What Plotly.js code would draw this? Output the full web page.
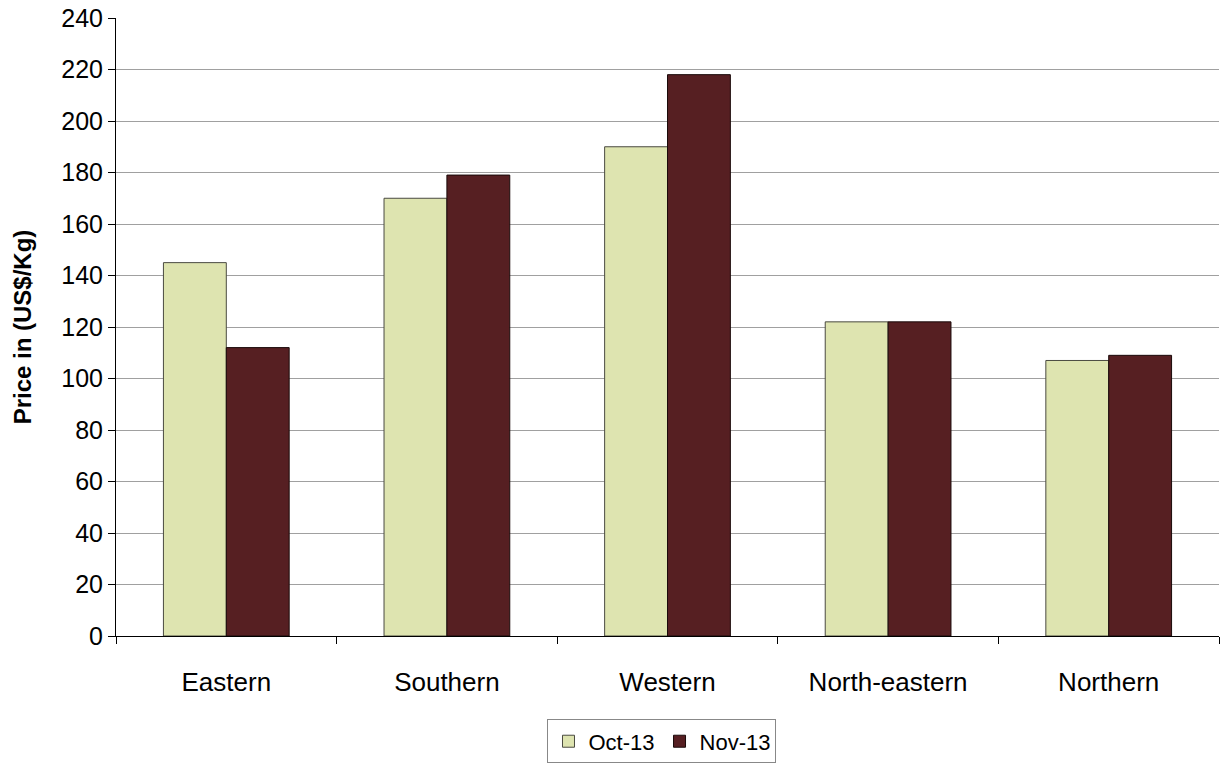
<!DOCTYPE html>
<html>
<head>
<meta charset="utf-8">
<script src="https://cdn.plot.ly/plotly-3.0.1.min.js"></script>
<style>html,body{margin:0;padding:0;background:#fff;}#chart{width:1221px;height:765px;}</style>
</head>
<body>
<div id="chart"></div>
<script>
const regions = ["Eastern", "Southern", "Western", "North-eastern", "Northern"];
const oct13 = [145, 170, 190, 122, 107];
const nov13 = [112, 179, 218, 122, 109];
const yTicks = [0, 20, 40, 60, 80, 100, 120, 140, 160, 180, 200, 220, 240];
const gridTicks = [20, 40, 60, 80, 100, 120, 140, 160, 180, 200, 220];

const traces = [
  {type: 'bar', name: 'Oct-13', x: regions, y: oct13,
   marker: {color: '#DEE4B0', line: {color: '#4a4a40', width: 1}}},
  {type: 'bar', name: 'Nov-13', x: regions, y: nov13,
   marker: {color: '#561F22', line: {color: '#1a0a0a', width: 1}}},
  {type: 'scatter', x: regions, y: [null,null,null,null,null], yaxis: 'y2', showlegend: false, hoverinfo: 'skip'}
];

const layout = {
  width: 1221, height: 765,
  margin: {l: 116, r: 2, t: 18, b: 127},
  paper_bgcolor: '#fff', plot_bgcolor: 'rgba(0,0,0,0)',
  font: {family: 'Liberation Sans, Arial, sans-serif', size: 22, color: '#000'},
  barmode: 'group', bargap: 0.43, bargroupgap: 0,
  xaxis: {
    type: 'category', showline: true, linecolor: '#000', linewidth: 1,
    ticks: 'outside', tickson: 'boundaries', ticklen: 7, tickcolor: '#000',
    showgrid: false, tickfont: {size: 26}, ticklabelstandoff: 23
  },
  yaxis: {
    range: [0, 240], tickvals: yTicks, ticktext: yTicks.map(String),
    showline: true, linecolor: '#000', linewidth: 1,
    ticks: 'outside', ticklen: 7, tickcolor: '#000',
    showgrid: false, zeroline: false, tickfont: {size: 25},
    title: {text: 'Price in (US$/Kg)', font: {size: 24, color: '#000', weight: 'bold'}, standoff: 22}
  },
  yaxis2: {
    overlaying: 'y', range: [0, 240], tickvals: gridTicks, showticklabels: false,
    showgrid: true, gridcolor: '#a0a0a0', gridwidth: 1, zeroline: false, layer: 'below traces'
  },
  showlegend: true,
  legend: {
    orientation: 'h', x: 0.495, xanchor: 'center', y: -0.135, yanchor: 'top',
    bordercolor: '#888', borderwidth: 1, bgcolor: '#fff',
    font: {size: 22}, itemwidth: 30, traceorder: 'normal'
  }
};

Plotly.newPlot('chart', traces, layout, {staticPlot: true});
</script>
</body>
</html>
